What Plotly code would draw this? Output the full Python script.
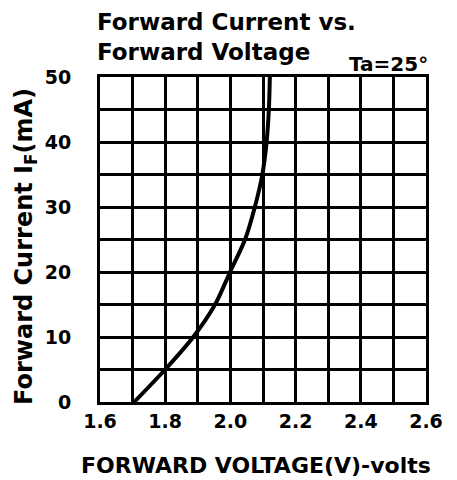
import plotly.graph_objects as go

# Data
voltage = [1.705, 1.80, 1.886, 1.953, 1.999, 2.045, 2.075, 2.098, 2.111, 2.118, 2.121]
current = [0, 5, 10, 15, 20, 25, 30, 35, 40, 45, 50]

x_ticks = [1.6, 1.8, 2.0, 2.2, 2.4, 2.6]
x_tick_labels = ["1.6", "1.8", "2.0", "2.2", "2.4", "2.6"]
y_ticks = [0, 10, 20, 30, 40, 50]
y_tick_labels = ["0", "10", "20", "30", "40", "50"]

FONT = "DejaVu Sans"

fig = go.Figure()
fig.add_trace(go.Scatter(
    x=voltage, y=current, mode="lines",
    line=dict(color="black", width=4, shape="spline", smoothing=0.8),
    showlegend=False, hoverinfo="skip",
))

axis_common = dict(
    showgrid=True, gridcolor="black", gridwidth=3,
    showline=True, linecolor="black", linewidth=3, mirror=True,
    zeroline=False, ticks="",
    tickfont=dict(family=FONT, size=19, color="black", weight="bold"),
)

# page body has an 8px default margin, so the figure is sized to fit the 457x480 window
fig.update_layout(
    width=449, height=472,
    margin=dict(l=92, r=31, t=69, b=78, autoexpand=False),
    paper_bgcolor="white", plot_bgcolor="white",
    xaxis=dict(range=[1.6, 2.6], tickmode="array",
               tickvals=x_ticks, ticktext=x_tick_labels,
               minor=dict(dtick=0.1, tick0=1.6, showgrid=True, gridcolor="black", gridwidth=3, ticks=""),
               ticklabelstandoff=0,
               **axis_common),
    yaxis=dict(range=[0, 50], tickmode="array", tickvals=y_ticks,
               ticktext=y_tick_labels,
               minor=dict(dtick=5, tick0=0, showgrid=True, gridcolor="black", gridwidth=3, ticks=""),
               ticklabelstandoff=22,
               **axis_common),
    annotations=[
        dict(text="Forward Current vs.<br>Forward Voltage", xref="paper", yref="paper",
             x=0, y=1, xshift=-4, yshift=69, xanchor="left", yanchor="top", align="left",
             borderpad=0, showarrow=False,
             font=dict(family=FONT, size=23, color="black", weight="bold")),
        dict(text="Ta=25°", xref="paper", yref="paper", x=1, y=1, xanchor="right", yanchor="bottom",
             xshift=4, yshift=-1, showarrow=False,
             font=dict(family=FONT, size=20, color="black", weight="bold")),
        dict(text="FORWARD VOLTAGE(V)-volts", xref="paper", yref="paper", x=0.48, y=0,
             yshift=-49, xanchor="center", yanchor="top", showarrow=False,
             font=dict(family=FONT, size=22, color="black", weight="bold")),
        dict(text="Forward Current I<sub>F</sub>(mA)", xref="paper", yref="paper", x=0, y=0.477,
             xshift=-74, textangle=-90, xanchor="center", yanchor="middle", showarrow=False,
             font=dict(family=FONT, size=24, color="black", weight="bold")),
    ],
)

fig.write_html("out.html")
